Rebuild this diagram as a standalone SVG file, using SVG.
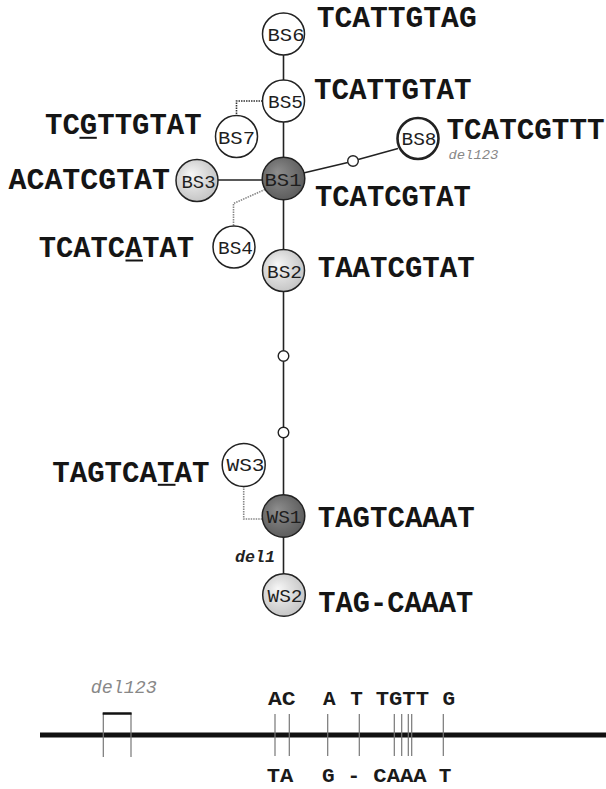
<svg xmlns="http://www.w3.org/2000/svg" width="606" height="789" viewBox="0 0 606 789">
<style>
.seq{font-family:"Courier New","Liberation Mono",monospace;font-weight:bold;font-size:29px;fill:#151515}
.lbl{font-family:"Courier New","Liberation Mono",monospace;font-size:18px;fill:#1e1e1e;text-anchor:middle}
.node{stroke:#222;stroke-width:1.5}
.white{fill:#fff}
.dark{fill:url(#gDark)}
.light{fill:url(#gLight)}
.dot{fill:#fff;stroke:#222;stroke-width:1.4}
.edge{stroke:#222;stroke-width:1.6;fill:none}
.dash{stroke:#333;stroke-width:1.6;stroke-dasharray:1.5 1;fill:none}
.gdash{stroke:#888;stroke-width:1.6;stroke-dasharray:1.5 1;fill:none}
.del{font-family:"Courier New","Liberation Mono",monospace;font-style:italic;fill:#888}
.bas{font-family:"Courier New","Liberation Mono",monospace;font-weight:bold;font-size:21px;fill:#1a1a1a}
.tick{stroke:#777;stroke-width:1.2}
.ul{stroke:#151515;stroke-width:2}
</style>
<defs>
<radialGradient id="gDark" cx="0.45" cy="0.45" r="0.6" fx="0.35" fy="0.35">
<stop offset="0" stop-color="#8e8e8e"/>
<stop offset="1" stop-color="#5a5a5a"/>
</radialGradient>
<radialGradient id="gLight" cx="0.45" cy="0.45" r="0.6" fx="0.35" fy="0.35">
<stop offset="0" stop-color="#f7f7f7"/>
<stop offset="1" stop-color="#c2c2c2"/>
</radialGradient>
</defs>

<g id="connectors">
<line class="edge" x1="283.5" y1="55" x2="283.5" y2="80"/>
<line class="edge" x1="283.5" y1="122" x2="283.5" y2="157.5"/>
<polyline class="dash" points="262.5,101 236.5,101 236.5,115.5"/>
<line class="edge" x1="218" y1="180" x2="262.5" y2="180"/>
<polyline class="gdash" points="265,189.5 233.5,203.5 233.5,226"/>
<line class="edge" x1="303.5" y1="173" x2="347.8" y2="162.5"/>
<line class="edge" x1="358.2" y1="159.5" x2="398" y2="148.5"/>
<line class="edge" x1="283.5" y1="199.5" x2="283.5" y2="249.5"/>
<line class="edge" x1="283.5" y1="291.5" x2="283.5" y2="350.5"/>
<line class="edge" x1="283.5" y1="361.5" x2="283.5" y2="427"/>
<line class="edge" x1="283.5" y1="438" x2="283.5" y2="495"/>
<polyline class="gdash" points="243.7,486 243.7,519 262.5,519"/>
<line class="edge" x1="283.5" y1="537" x2="283.5" y2="574"/>
<text class="del" x="235" y="562" font-size="16" font-weight="bold" style="fill:#222" textLength="40" lengthAdjust="spacingAndGlyphs">del1</text>
</g>

<g id="BS6">
<circle class="node white" cx="283.5" cy="34" r="21"/>
<text class="lbl" x="286" y="41" textLength="37" lengthAdjust="spacingAndGlyphs">BS6</text>
<text class="seq" x="316.7" y="27" textLength="160" lengthAdjust="spacingAndGlyphs">TCATTGTAG</text>
</g>
<g id="BS5">
<circle class="node white" cx="283.5" cy="101" r="21"/>
<text class="lbl" x="285.5" y="108" textLength="35" lengthAdjust="spacingAndGlyphs">BS5</text>
<text class="seq" x="313.9" y="99" textLength="157.7" lengthAdjust="spacingAndGlyphs">TCATTGTAT</text>
</g>
<g id="BS7">
<circle class="node white" cx="236.5" cy="136.5" r="21"/>
<text class="lbl" x="236.5" y="143.5" textLength="37" lengthAdjust="spacingAndGlyphs">BS7</text>
<text class="seq" x="45" y="133.5" textLength="156.7" lengthAdjust="spacingAndGlyphs">TCGTTGTAT</text>
<line class="ul" x1="79.5" y1="137.8" x2="96.8" y2="137.8"/>
</g>
<g id="BS8">
<circle class="node white" cx="418" cy="138.5" r="20.5" style="stroke-width:2.6"/>
<text class="lbl" x="419" y="145" textLength="35" lengthAdjust="spacingAndGlyphs">BS8</text>
<text class="seq" x="446.5" y="139" textLength="158" lengthAdjust="spacingAndGlyphs">TCATCGTTT</text>
<text class="del" x="448.4" y="158.5" font-size="13" textLength="50" lengthAdjust="spacingAndGlyphs">del123</text>
</g>
<g id="BS3">
<circle class="node light" cx="197" cy="180.5" r="21"/>
<text class="lbl" x="198.5" y="187.5" textLength="34" lengthAdjust="spacingAndGlyphs">BS3</text>
<text class="seq" x="8.5" y="188.5" textLength="161.5" lengthAdjust="spacingAndGlyphs">ACATCGTAT</text>
</g>
<g id="BS1">
<circle class="node dark" cx="283.5" cy="178.5" r="21.3"/>
<text class="lbl" x="283" y="185.5" textLength="37" lengthAdjust="spacingAndGlyphs">BS1</text>
<text class="seq" x="315" y="206" textLength="155.8" lengthAdjust="spacingAndGlyphs">TCATCGTAT</text>
</g>
<g id="BS4">
<circle class="node white" cx="234" cy="247" r="21"/>
<text class="lbl" x="235.5" y="254" textLength="35" lengthAdjust="spacingAndGlyphs">BS4</text>
<text class="seq" x="38.7" y="256.7" textLength="155.3" lengthAdjust="spacingAndGlyphs">TCATCATAT</text>
<line class="ul" x1="125.5" y1="260.5" x2="143" y2="260.5"/>
</g>
<g id="BS2">
<circle class="node light" cx="283.5" cy="270.5" r="21"/>
<text class="lbl" x="284.5" y="277.5" textLength="35" lengthAdjust="spacingAndGlyphs">BS2</text>
<text class="seq" x="317.7" y="276.7" textLength="157" lengthAdjust="spacingAndGlyphs">TAATCGTAT</text>
</g>
<g id="mv1"><circle class="dot" cx="353" cy="161" r="5.3"/></g>
<g id="mv2"><circle class="dot" cx="283.5" cy="356" r="5.3"/></g>
<g id="mv3"><circle class="dot" cx="283.5" cy="432.5" r="5.3"/></g>
<g id="WS3">
<circle class="node white" cx="243.7" cy="465" r="21.5"/>
<text class="lbl" x="245.5" y="470.5" textLength="38" lengthAdjust="spacingAndGlyphs">WS3</text>
<text class="seq" x="52.2" y="481.7" textLength="157.3" lengthAdjust="spacingAndGlyphs">TAGTCATAT</text>
<line class="ul" x1="157.8" y1="484.8" x2="175.5" y2="484.8"/>
</g>
<g id="WS1">
<circle class="node dark" cx="283.5" cy="516" r="21.3"/>
<text class="lbl" x="284" y="523" textLength="35" lengthAdjust="spacingAndGlyphs">WS1</text>
<text class="seq" x="317.7" y="526.7" textLength="157" lengthAdjust="spacingAndGlyphs">TAGTCAAAT</text>
</g>
<g id="WS2">
<circle class="node light" cx="284" cy="595" r="21.3"/>
<text class="lbl" x="285" y="602" textLength="35" lengthAdjust="spacingAndGlyphs">WS2</text>
<text class="seq" x="318.3" y="611.5" textLength="155" lengthAdjust="spacingAndGlyphs">TAG-CAAAT</text>
</g>

<g id="sequence-map">
<line x1="40" y1="735" x2="606" y2="735" stroke="#111" stroke-width="5"/>
<text class="del" x="90.7" y="693" font-size="18" textLength="66" lengthAdjust="spacingAndGlyphs">del123</text>
<line class="tick" x1="103.3" y1="713" x2="103.3" y2="757"/>
<line class="tick" x1="131" y1="713" x2="131" y2="757"/>
<line x1="102.7" y1="713.5" x2="131.6" y2="713.5" stroke="#111" stroke-width="2.5"/>
<line class="tick" x1="275" y1="714" x2="275" y2="756"/>
<line class="tick" x1="289.3" y1="714" x2="289.3" y2="756"/>
<line class="tick" x1="327.7" y1="714" x2="327.7" y2="756"/>
<line class="tick" x1="359.3" y1="714" x2="359.3" y2="756"/>
<line class="tick" x1="394.3" y1="714" x2="394.3" y2="756"/>
<line class="tick" x1="401.7" y1="714" x2="401.7" y2="756"/>
<line class="tick" x1="408.3" y1="714" x2="408.3" y2="756"/>
<line class="tick" x1="411.7" y1="714" x2="411.7" y2="756"/>
<line class="tick" x1="443.3" y1="714" x2="443.3" y2="756"/>
<text class="bas" x="268" y="705" textLength="27.7" lengthAdjust="spacingAndGlyphs">AC</text>
<text class="bas" x="329.2" y="705" text-anchor="middle">A</text>
<text class="bas" x="356.5" y="705" text-anchor="middle">T</text>
<text class="bas" x="375.7" y="705" textLength="53.3" lengthAdjust="spacingAndGlyphs">TGTT</text>
<text class="bas" x="448.9" y="705" text-anchor="middle">G</text>
<text class="bas" x="266.7" y="782" textLength="26.6" lengthAdjust="spacingAndGlyphs">TA</text>
<text class="bas" x="328.4" y="782" text-anchor="middle">G</text>
<text class="bas" x="353.8" y="782" text-anchor="middle">-</text>
<text class="bas" x="373.3" y="782" textLength="53.4" lengthAdjust="spacingAndGlyphs">CAAA</text>
<text class="bas" x="445" y="782" text-anchor="middle">T</text>
</g>
</svg>
